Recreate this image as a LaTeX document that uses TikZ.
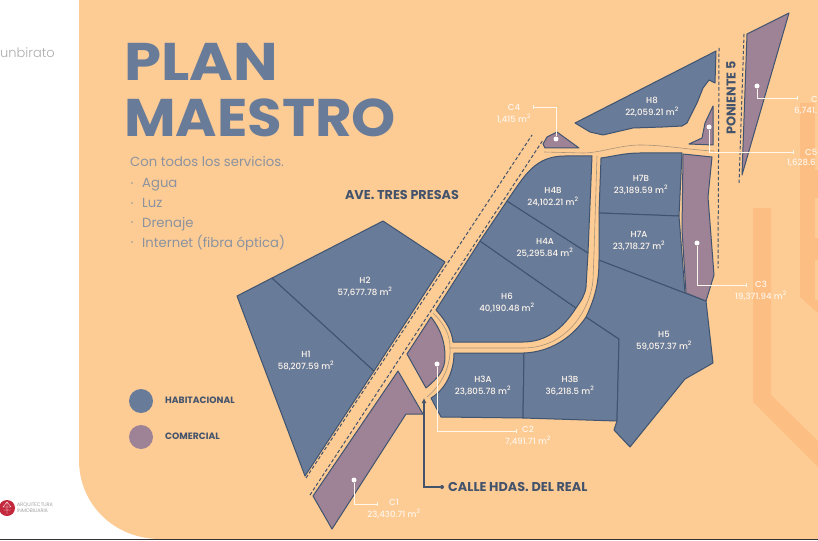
\documentclass[tikz,border=0pt]{standalone}
\usepackage{fontspec}
\usetikzlibrary{arrows.meta}
\setmainfont{Poppins}
\newfontfamily\pmed[UprightFont=* Medium]{Poppins}
\newfontfamily\psemi[UprightFont=* SemiBold]{Poppins}
\newfontfamily\plight[UprightFont=* Light]{Poppins}
\definecolor{peach}{HTML}{FDCB94}
\definecolor{strip}{HTML}{FDBE84}
\definecolor{lotblue}{HTML}{687B99}
\definecolor{lotedge}{HTML}{3F5470}
\definecolor{mauve}{HTML}{9E8295}
\definecolor{ink}{HTML}{43536C}
\definecolor{bodytext}{HTML}{8B93A0}
\definecolor{centre}{HTML}{A8957C}
\definecolor{lblwhite}{HTML}{FFF6EC}
\definecolor{logored}{HTML}{C4283C}
\tikzset{
  lot/.style={fill=lotblue,draw=lotedge,line width=1pt,line join=round},
  shop/.style={fill=mauve,draw=lotedge,line width=1pt,line join=round},
  roaddash/.style={draw=ink,line width=1pt,dash pattern=on 3.4pt off 2.2pt},
  roadline/.style={draw=centre,line width=0.6pt},
  leader/.style={draw=lblwhite,line width=0.7pt},
  tick/.style={draw=lblwhite,line width=0.7pt},
  pin/.style={circle,fill=white,inner sep=0pt,minimum size=5pt},
  lbl/.style={text=lblwhite,font=\pmed\fontsize{8.6}{12}\selectfont,inner sep=0pt,align=center},
  lbll/.style={lbl,anchor=west},
  street/.style={text=ink,font=\bfseries\fontsize{12.8}{14}\selectfont,inner sep=0pt},
  legendtxt/.style={text=ink,font=\bfseries\fontsize{9.2}{11}\selectfont,inner sep=0pt,anchor=west},
  item/.style={text=bodytext,font=\fontsize{13.2}{15}\selectfont,inner sep=0pt,anchor=base west},
  bul/.style={circle,fill=bodytext,inner sep=0pt,minimum size=1.8pt},
  title/.style={text=lotblue,font=\bfseries\fontsize{53}{55}\selectfont,inner sep=0pt,anchor=base west},
}
\newcommand{\sq}{m\textsuperscript{2}}
\begin{document}
\begin{tikzpicture}[x=1pt,y=-1pt]
\useasboundingbox (0,0) rectangle (818,540);
\clip (0,0) rectangle (818,540);
\fill[white] (0,0) rectangle (818,540);
% ground
\fill[peach] (79,0) -- (818,0) -- (818,539) -- (160,539) .. controls (115,539) and (79,505) .. (79,460) -- cycle;
% background strips
\fill[strip] (753,208) -- (771,208) -- (771,395) -- (818,441) -- (818,467) -- (753,402) -- cycle;
\fill[strip] (800,103) -- (818,103) -- (818,313) -- (800,297) -- cycle;
\fill[peach] (815,103) rectangle (818,170);
\fill[peach] (815,198) rectangle (818,238);
\fill[peach] (815,260) rectangle (818,300);
% road centre lines
\draw[roadline] (544,152) -- (583,153) .. controls (600,153) and (620,145) .. (640,145) .. controls (665,145) and (690,150) .. (714,151);
\draw[roadline] (597,156) -- (594,253) -- (593,280) .. controls (591,305) and (570,348) .. (523,348) -- (450,348);
\draw[roadline] (433,313) .. controls (445,325) and (450,335) .. (450,348) .. controls (451,365) and (442,385) .. (427,397);
% lots
\draw[lot] (237,296) -- (272,278) -- (374,371) -- (305,476) -- cycle;
\draw[lot] (272,278) -- (383,221) -- (445,262) -- (374,371) -- cycle;
\draw[lot] (454,353) -- (524,353) -- (523,418) -- (441,417) -- (431,398) .. controls (445,390) and (454,372) .. (454,353) -- cycle;
\draw[lot] (524,353) .. controls (550,352) and (572,338) .. (586,317) -- (619,339) -- (617,421) -- (523,418) -- cycle;
\draw[lot] (586,317) .. controls (594,300) and (599,285) .. (599,260) -- (685,293) -- (706,301) -- (713,363) -- (685,379) -- (630,447) -- (614,430) -- (617,421) -- (619,339) -- cycle;
\draw[lot] (436,310) -- (480,241) -- (576,308) .. controls (562,330) and (545,342) .. (523,342) -- (453,342) .. controls (452,332) and (447,322) .. (436,310) -- cycle;
\draw[lot] (480,241) -- (507,201) -- (588,253) -- (586,287) .. controls (585,295) and (581,301) .. (576,308) -- cycle;
\draw[lot] (507,201) .. controls (525,175) and (535,156) .. (565,156) -- (592,156) -- (588,253) -- cycle;
\draw[lot] (601,158) .. controls (615,156) and (625,153) .. (640,153) -- (682,153) -- (679,216) -- (599,213) -- cycle;
\draw[lot] (599,213) -- (679,216) -- (685,293) -- (599,260) -- cycle;
\draw[lot] (716,51) -- (575,123) -- (590,132) -- (603,135) -- (633,128) -- (663,127) -- (682,126) -- (687,123) -- (697,103) -- (703,88) -- (709,80) -- (715,83) -- cycle;
% commercial lots
\draw[shop] (313,496) -- (398,371) -- (423,414) -- (406,414) -- (332,529) -- cycle;
\draw[shop] (431,317) -- (407,354) -- (426,388) .. controls (438,378) and (445,370) .. (445,357) .. controls (445,342) and (441,330) .. (431,317) -- cycle;
\draw[shop] (683,154) -- (712,157) -- (708,197) -- (714,275) -- (706,301) -- (686,293) -- (682,230) -- cycle;
\draw[shop] (557,132) -- (579,148) -- (545,148) -- (543,144) -- (547,137) -- cycle;
\draw[shop] (713,106) -- (713,145) -- (689,144) -- (702,138) -- (705,123) -- cycle;
\draw[shop] (789,13) -- (747,34) -- (742,175) -- cycle;
% road edges
\coordinate (aveLa) at (306,478); \coordinate (aveLb) at (532,135);
\coordinate (aveRa) at (310,495); \coordinate (aveRb) at (543,140);
\coordinate (ponLa) at (719,48);  \coordinate (ponLb) at (718,268);
\coordinate (ponRa) at (744,34);  \coordinate (ponRb) at (739,184);
\draw[roaddash] (aveLa) -- (aveLb);
\draw[roaddash] (aveRa) -- (aveRb);
\draw[roaddash] (ponLa) -- (ponLb);
\draw[roaddash] (ponRa) -- (ponRb);
% title and list
\node[title] (tA) at (124,81) {\scalebox{1.12}[1]{PLAN}};
\node[title] (tB) at (124,137) {\scalebox{1.06}[1]{MAESTRO}};
\node[item] (iA) at (130,167) {Con todos los servicios.};
\node[bul] (bA) at (132,183) {}; \node[item] (iB) at (142,187) {Agua};
\node[bul] (bB) at (132,203) {}; \node[item] (iC) at (142,207) {Luz};
\node[bul] (bC) at (132,222) {}; \node[item] (iD) at (142,227) {Drenaje};
\node[bul] (bD) at (132,242) {}; \node[item] (iE) at (142,247) {Internet (fibra óptica)};
% street names
\node[street] (ave) at (402,195) {AVE. TRES PRESAS};
\node[street,rotate=90] (pon) at (731,98) {PONIENTE 5};
\node[street,anchor=west] (calle) at (448,486.5) {CALLE HDAS. DEL REAL};
\node[circle,fill=ink,inner sep=0pt,minimum size=4pt] (calleDot) at (442,487) {};
\coordinate (calleBend) at (424,487);
\coordinate (calleTip) at (424,398);
\draw[ink,line width=1.1pt,-{Latex[length=5pt,width=5pt]}] (calleDot) -- (calleBend) -- (calleTip);
% legend
\node[circle,fill=lotblue,inner sep=0pt,minimum size=24pt] (legA) at (141,401) {};
\node[circle,fill=mauve,inner sep=0pt,minimum size=24pt] (legB) at (141,437) {};
\node[legendtxt] (legAt) at (165,400) {HABITACIONAL};
\node[legendtxt] (legBt) at (165,436) {COMERCIAL};
% lot labels
\foreach \nm/\x/\y/\aa/\vv in {
  H1/306/361/H1/58{,}207.59,
  H2/365/287/H2/57{,}677.78,
  H3A/483/386/H3A/23{,}805.78,
  H3B/570/386/H3B/36{,}218.5,
  H4A/545/248/H4A/25{,}295.84,
  H4B/553/197/H4B/24{,}102.21,
  H5/664/341/H5/59{,}057.37,
  H6/507/303/H6/40{,}190.48,
  H7A/639/241/H7A/23{,}718.27,
  H7B/641/185/H7B/23{,}189.59,
  H8/652/107/H8/22{,}059.21,
  C1/394/509/C1/23{,}430.71,
  C2/528/436/C2/7{,}491.71,
  C3/761/291/C3/19{,}371.94,
  C4/514/114/C4/1{,}415}
  {\node[lbl] (lab\nm) at (\x,\y) {\aa\\\vv\ \sq};}
% cut-off labels at the right edge
\node[lbll] (labC6a) at (811,99) {C};
\node[lbll] (labC6b) at (794,111) {6,741.};
\node[lbll] (labC5a) at (805,152) {C5};
\node[lbll] (labC5b) at (787,163) {1,628.6};
% leaders
\node[pin] (pC1) at (354,480) {}; \coordinate (bC1) at (354,504); \coordinate (eC1) at (377,504);
\node[pin] (pC2) at (437,364) {}; \coordinate (bC2) at (437,431); \coordinate (eC2) at (516,431);
\node[pin] (pC3) at (697,243) {}; \coordinate (bC3) at (697,285); \coordinate (eC3) at (746,285);
\node[pin] (pC4) at (556,139) {}; \coordinate (bC4) at (556,107); \coordinate (eC4) at (533,107);
\node[pin] (pC5) at (709,127) {}; \coordinate (bC5) at (709,152); \coordinate (eC5) at (793,152);
\node[pin] (pC6) at (757,86) {};  \coordinate (bC6) at (757,98.5);  \coordinate (eC6) at (797,98.5);
\foreach \k in {C1,C2,C3,C4,C5,C6}{
  \draw[leader] (p\k) -- (b\k) -- (e\k);
  \draw[tick] ([yshift=-2pt]e\k) -- ([yshift=2pt]e\k);
}
% logos
\node[text=black!32,font=\plight\fontsize{13}{15}\selectfont,inner sep=0pt,anchor=east] (brand) at (55,53) {unbirato};
\node[circle,fill=logored,inner sep=0pt,minimum size=16pt] (logo) at (7,508) {};
\draw[white,line width=0.35pt] (7,502) -- (3,507) -- (11,507) -- cycle (7,502) -- (7,514) (3.5,510) -- (10.5,510);
\node[text=black!45,font=\plight\fontsize{5}{5.8}\selectfont,inner sep=0pt,anchor=west,align=left] (logotxt) at (17,508) {ARQUITECTURA\\INMOBILIARIA};
% bottom rule
\fill[black!80] (0,539) rectangle (818,540);
\end{tikzpicture}
\end{document}
